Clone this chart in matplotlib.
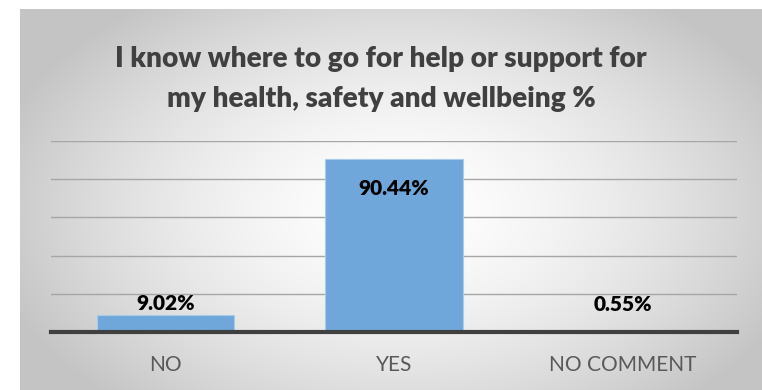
import matplotlib
matplotlib.use('Agg')
import matplotlib.pyplot as plt
import numpy as np

# donnees du graphique
categories = ['NO', 'YES', 'NO COMMENT']
valeurs = [9.02, 90.44, 0.55]
etiquettes = ['9.02%', '90.44%', '0.55%']
titre = 'I know where to go for help or support for\nmy health, safety and wellbeing %'

plt.rcParams['font.family'] = ['Lato', 'DejaVu Sans']

W, H = 762, 390
fig = plt.figure(figsize=(W / 100, H / 100), dpi=100)
fig.patch.set_facecolor('white')

# fond du graphique : degrade radial blanc -> gris
bg = fig.add_axes([20 / W, 0, 742 / W, 381 / H])
bg.set_axis_off()
ny, nx = 381, 742
yy, xx = np.mgrid[0:ny, 0:nx]
cx, cy = 380, 200
r = np.sqrt(((xx - cx) / 420.0) ** 2 + ((yy - cy) / 260.0) ** 2)
r = np.clip(r, 0, 1)
g = 1.0 - 0.23 * r ** 1.6
img = np.dstack([g, g, g])
bg.imshow(img, aspect='auto', extent=[0, 1, 0, 1], interpolation='bilinear')
bg.set_xlim(0, 1)
bg.set_ylim(0, 1)

# zone de trace
ax = fig.add_axes([51 / W, (H - 332) / H, 686 / W, 191 / H])
ax.patch.set_alpha(0)
x = np.arange(len(categories))
ax.bar(x, valeurs, width=0.6, color='#70a7db', edgecolor='#a9cbea',
       linewidth=0.8, zorder=2)
ax.set_xlim(-0.5, len(categories) - 0.5)
ax.set_ylim(0, 100)
ax.set_yticks([20, 40, 60, 80, 100])
ax.grid(axis='y', color='#a6a6a6', linewidth=1.0, zorder=0)
ax.axhline(0, color='#404040', linewidth=3, zorder=3, clip_on=False)
for s in ax.spines.values():
    s.set_visible(False)
ax.tick_params(left=False, bottom=False, labelleft=False)
ax.set_xticks(x)
ax.set_xticklabels(categories, fontsize=15, color='#595959')
ax.tick_params(axis='x', pad=13)

# etiquettes de valeurs
decalages = [1, -14, 12]
for xi, v, t, d in zip(x, valeurs, etiquettes, decalages):
    ax.annotate(t, (xi, v), xytext=(0, d), textcoords='offset points',
                ha='center', va='bottom' if d > 0 else 'top',
                fontsize=15, fontweight='heavy', color='black', zorder=4)

fig.text(381 / W, (H - 79) / H, titre, ha='center', va='center',
         fontsize=20.2, fontweight='heavy', color='#404040', linespacing=1.62)

fig.savefig('out.png', dpi=100)
